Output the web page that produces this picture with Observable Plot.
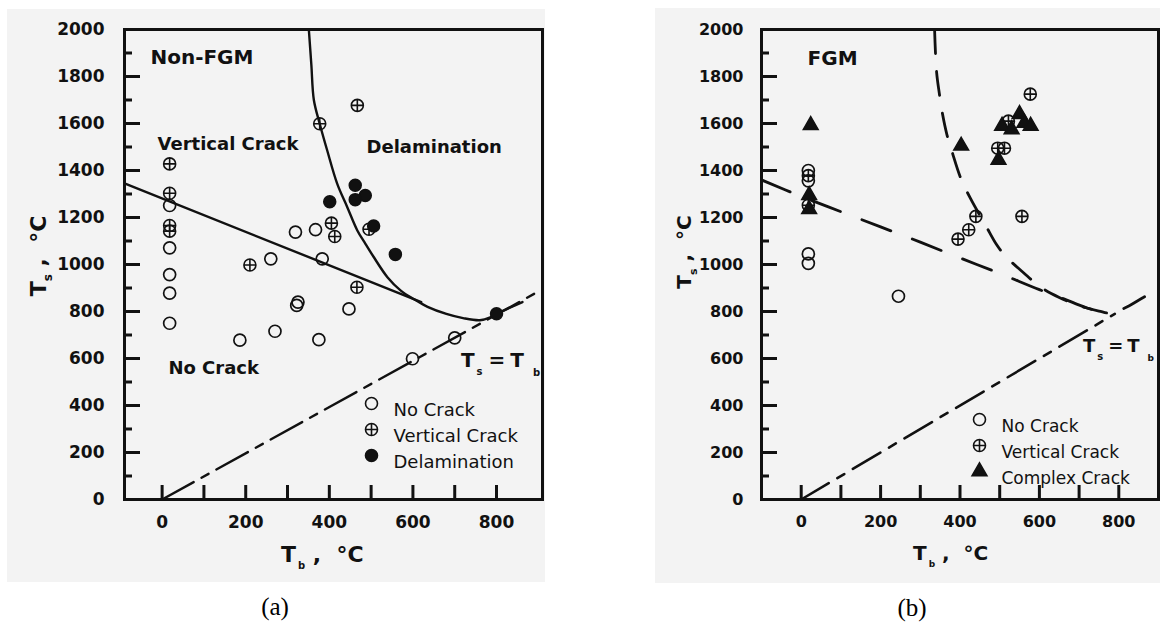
<!DOCTYPE html>
<html><head><meta charset="utf-8">
<script src="https://cdn.jsdelivr.net/npm/d3@7"></script>
<script src="https://cdn.jsdelivr.net/npm/@observablehq/plot@0.6"></script>
<style>
body{margin:0;background:#fff;width:1160px;height:626px;position:relative;overflow:hidden;font-family:"DejaVu Sans",sans-serif;}
.panel{position:absolute;background:#f3f3f3;}
.panel svg{display:block;}
.cap{position:absolute;font-family:"Liberation Serif","Times New Roman",serif;font-size:25px;color:#000;transform:translate(-50%,-50%);line-height:1;}
</style></head><body>
<div id="pa" class="panel" style="left:7px;top:9px;width:538px;height:573px"></div>
<div id="pb" class="panel" style="left:655px;top:8px;width:505px;height:575px"></div>
<div class="cap" style="left:275px;top:606px">(a)</div>
<div class="cap" style="left:912px;top:607px">(b)</div>
<script>
// ---------- tick values ----------
const xTicks = [0,100,200,300,400,500,600,700,800];
const xLabels = [0,200,400,600,800];
const yMajor = [0,200,400,600,800,1000,1200,1400,1600,1800,2000];
const yMinor = [100,300,500,700,900,1100,1300,1500,1700,1900];

// ---------- panel (a) Non-FGM data : [Tb, Ts] ----------
const aNoCrack = [[18,1251],[18,1071],[18,957],[18,878],[18,750],[319,1138],[367,1148],[260,1024],[383,1024],
  [325,840],[322,826],[447,811],[270,716],[375,680],[186,678],[700,688],[599,599]];
const aVertical = [[18,1428],[18,1303],[18,1166],[18,1142],[210,998],[467,1677],[377,1599],[405,1176],[413,1119],[466,903],[495,1150]];
const aDelam = [[462,1337],[486,1294],[462,1276],[401,1267],[506,1164],[558,1043],[800,790]];
const aBoundary1 = [[-90,1345],[620,840]];
const aBoundary2 = [[351,2000],[357,1850],[363,1700],[377,1599],[395,1485],[419,1343],[443,1244],[467,1145],[484,1095],
  [505,1035],[539,946],[571,889],[603,852],[635,820],[680,790],[720,772],[760,763],[785,775],[800,790],[862,840]];
const aDiagonal = [[0,0],[900,885]];
const aLegend = ["No Crack","Vertical Crack","Delamination"];

// ---------- panel (b) FGM data ----------
const bNoCrack = [[18,1400],[18,1356],[18,1045],[18,1005],[245,865]];
const bVertical = [[18,1378],[18,1252],[577,1725],[522,1610],[495,1495],[512,1495],[440,1205],[422,1148],[395,1108],[556,1205]];
const bComplex = [[24,1593],[20,1295],[20,1235],[403,1505],[497,1445],[506,1590],[530,1575],[550,1640],[562,1602],[578,1590]];
const bBoundary1 = [[-100,1360],[0,1290],[100,1225],[200,1160],[300,1095],[400,1028],[500,962],[600,893],[660,855],[720,815],[779,793]];
const bBoundary2 = [[336,2000],[341,1820],[348,1727],[356,1640],[367,1553],[380,1480],[402,1367],[426,1282],[466,1162],[492,1085],
  [515,1035],[560,965],[602,905],[650,860],[700,825],[750,802],[779,793],[815,815],[855,853],[900,897]];
const bDiagonal = [[0,0],[790,790]];
const bLegend = ["No Crack","Vertical Crack","Complex Crack"];

// ---------- shapes ----------
const circlePlus = {draw(ctx, size){ const r = Math.sqrt(size/Math.PI);
  ctx.moveTo(r,0); ctx.arc(0,0,r,0,2*Math.PI); ctx.moveTo(-r,0); ctx.lineTo(r,0); ctx.moveTo(0,-r); ctx.lineTo(0,r);} };
const X = d => d[0], Y = d => d[1];
const FONT = "DejaVu Sans";
const fmt = d => String(d);

function axisLabelMarks(tickFont, labPadX, labPadY){
  return [
    Plot.axisX({ticks: xLabels, tickSize:0, tickPadding:labPadX, tickFormat:fmt, label:null, fontSize:tickFont, fontWeight:"bold", fontFamily:FONT}),
    Plot.axisY({ticks: yMajor, tickSize:0, tickPadding:labPadY, tickFormat:fmt, label:null, fontSize:tickFont, fontWeight:"bold", fontFamily:FONT})
  ];
}
function tickFrameMarks(plotW, plotH){
  return [
    Plot.frame({stroke:"#111", strokeWidth:3}),
    Plot.ruleX(xTicks, {x: d=>d, insetTop: plotH-14, stroke:"#111", strokeWidth:3}),
    Plot.ruleY(yMajor, {y: d=>d, insetRight: plotW-16, stroke:"#111", strokeWidth:3}),
    Plot.ruleY(yMinor, {y: d=>d, insetRight: plotW-8, stroke:"#111", strokeWidth:3})
  ];
}
function legendMarks(labels, symbols, dx0, tdx, dy0, step, fs){
  const m = [];
  labels.forEach((lab, i) => {
    const s = symbols[i];
    m.push(Plot.dot([lab], {frameAnchor:"top-left", dx:dx0, dy:dy0+i*step, r:s.r, symbol:s.symbol,
      fill:s.fill, stroke:"#111", strokeWidth:1.6}));
    m.push(Plot.text([lab], {frameAnchor:"top-left", dx:tdx, dy:dy0+i*step, text:d=>d, textAnchor:"start",
      fontSize:fs, fontFamily:FONT, fill:"#111"}));
  });
  return m;
}
function addRich(svg, x, y, parts, rotate, anchor){
  const t = d3.select(svg).append("text")
    .attr("transform", `translate(${x},${y})` + (rotate ? ` rotate(${rotate})` : ""))
    .attr("text-anchor", anchor || "start").attr("font-family", FONT).attr("font-weight","bold").attr("fill","#111");
  parts.forEach(p => { const ts = t.append("tspan").text(p.t).attr("font-size", p.fs);
    if (p.dy) ts.attr("dy", p.dy); if (p.dx) ts.attr("dx", p.dx); });
}

// ---------- panel (a) ----------
const A = {w:538, h:573, ml:117, mr:3, mt:20, mb:83};
const plotA = Plot.plot({
  width:A.w, height:A.h, marginLeft:A.ml, marginRight:A.mr, marginTop:A.mt, marginBottom:A.mb,
  x:{domain:[-90,910]}, y:{domain:[0,2000]},
  style:{background:"transparent", fontFamily:FONT, color:"#111", overflow:"visible"},
  marks:[
    ...axisLabelMarks(17, 16, 20),
    Plot.line(aDiagonal, {x:X, y:Y, stroke:"#111", strokeWidth:2.4, strokeDasharray:"36,9,8,9"}),
    Plot.line(aBoundary1, {x:X, y:Y, stroke:"#111", strokeWidth:2.4}),
    Plot.line(aBoundary2, {x:X, y:Y, stroke:"#111", strokeWidth:2.4, curve:"catmull-rom"}),
    Plot.dot(aNoCrack, {x:X, y:Y, r:6, fill:"none", stroke:"#111", strokeWidth:1.7}),
    Plot.dot(aVertical, {x:X, y:Y, r:6, symbol:circlePlus, fill:"none", stroke:"#111", strokeWidth:1.6}),
    Plot.dot(aDelam, {x:X, y:Y, r:6, fill:"#111", stroke:"#111"}),
    Plot.text(["Non-FGM"], {x:()=>-28, y:()=>1881, text:d=>d, textAnchor:"start", fontSize:20, fontWeight:"bold", fontFamily:FONT, fill:"#111"}),
    Plot.text(["Vertical Crack"], {x:()=>-11, y:()=>1513, text:d=>d, textAnchor:"start", fontSize:18, fontWeight:"bold", fontFamily:FONT, fill:"#111"}),
    Plot.text(["Delamination"], {x:()=>489, y:()=>1499, text:d=>d, textAnchor:"start", fontSize:18, fontWeight:"bold", fontFamily:FONT, fill:"#111"}),
    Plot.text(["No Crack"], {x:()=>15, y:()=>557, text:d=>d, textAnchor:"start", fontSize:18, fontWeight:"bold", fontFamily:FONT, fill:"#111"}),
    ...legendMarks(aLegend, [{r:6,symbol:"circle",fill:"none"},{r:6,symbol:circlePlus,fill:"none"},{r:6,symbol:"circle",fill:"#111"}],
      247, 269, 374, 26, 18),
    ...tickFrameMarks(A.w-A.ml-A.mr, A.h-A.mt-A.mb)
  ]
});
document.getElementById("pa").appendChild(plotA);
{
  const sx = plotA.scale("x"), sy = plotA.scale("y");
  addRich(plotA, sx.apply(716), sy.apply(562), [
    {t:"T", fs:20}, {t:"s", fs:10, dy:8, dx:2}, {t:"=", fs:20, dy:-8, dx:6}, {t:"T", fs:20, dx:5}, {t:"b", fs:10, dy:9, dx:9}]);
  addRich(plotA, 39, 247, [{t:"T", fs:22}, {t:"s", fs:12, dy:6}, {t:" ,  °C", fs:22, dy:-6}], -90, "middle");
  addRich(plotA, 274, 553, [{t:"T", fs:22}, {t:"b", fs:10, dy:7, dx:2}, {t:" ,  °C", fs:22, dy:-7}]);
}

// ---------- panel (b) ----------
const B = {w:505, h:575, ml:106, mr:2, mt:21, mb:84};
const plotB = Plot.plot({
  width:B.w, height:B.h, marginLeft:B.ml, marginRight:B.mr, marginTop:B.mt, marginBottom:B.mb,
  x:{domain:[-100,900]}, y:{domain:[0,2000]},
  style:{background:"transparent", fontFamily:FONT, color:"#111", overflow:"visible"},
  marks:[
    ...axisLabelMarks(16, 16, 18),
    Plot.line(bDiagonal, {x:X, y:Y, stroke:"#111", strokeWidth:2.6, strokeDasharray:"32,10,8,10"}),
    Plot.line(bBoundary1, {x:X, y:Y, stroke:"#111", strokeWidth:2.8, strokeDasharray:"31,23", curve:"catmull-rom"}),
    Plot.line(bBoundary2, {x:X, y:Y, stroke:"#111", strokeWidth:2.8, strokeDasharray:"24,18", curve:"catmull-rom"}),
    Plot.dot(bNoCrack, {x:X, y:Y, r:6, fill:"none", stroke:"#111", strokeWidth:1.7}),
    Plot.dot(bVertical, {x:X, y:Y, r:6, symbol:circlePlus, fill:"none", stroke:"#111", strokeWidth:1.6}),
    Plot.dot(bComplex, {x:X, y:Y, r:5.5, symbol:"triangle", fill:"#111", stroke:"#111"}),
    Plot.text(["FGM"], {x:()=>16, y:()=>1875, text:d=>d, textAnchor:"start", fontSize:20, fontWeight:"bold", fontFamily:FONT, fill:"#111"}),
    ...legendMarks(bLegend, [{r:6,symbol:"circle",fill:"none"},{r:6,symbol:circlePlus,fill:"none"},{r:5.5,symbol:"triangle",fill:"#111"}],
      218, 240, 390, 26, 17),
    ...tickFrameMarks(B.w-B.ml-B.mr, B.h-B.mt-B.mb)
  ]
});
document.getElementById("pb").appendChild(plotB);
{
  const sx = plotB.scale("x"), sy = plotB.scale("y");
  addRich(plotB, sx.apply(711), sy.apply(624), [
    {t:"T", fs:18}, {t:"s", fs:10, dy:8, dx:2}, {t:"=", fs:18, dy:-8, dx:5}, {t:"T", fs:18, dx:4}, {t:"b", fs:9, dy:9, dx:8}]);
  addRich(plotB, 36, 244, [{t:"T", fs:20}, {t:"s", fs:11, dy:6}, {t:" ,  °C", fs:20, dy:-6}], -90, "middle");
  addRich(plotB, 258, 552, [{t:"T", fs:20}, {t:"b", fs:9, dy:7, dx:2}, {t:" ,  °C", fs:20, dy:-7}]);
}
</script>
</body></html>
